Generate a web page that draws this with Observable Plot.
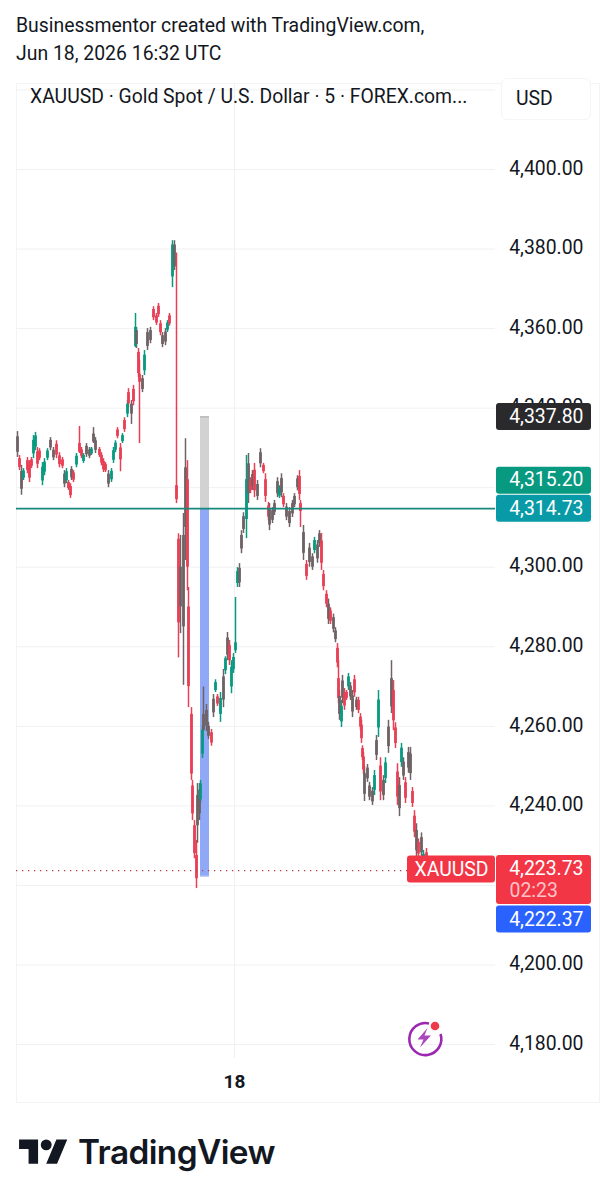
<!DOCTYPE html>
<html>
<head>
<meta charset="utf-8">
<script src="https://cdn.jsdelivr.net/npm/d3@7"></script>
<script src="https://cdn.jsdelivr.net/npm/@observablehq/plot@0.6"></script>
<style>
  html,body{margin:0;padding:0;background:#fff;}
  body{position:relative;width:614px;height:1200px;overflow:hidden;font-family:Roboto,sans-serif;color:#131722;}
  .abs{position:absolute;white-space:nowrap;}
  #chart{position:absolute;left:0;top:83px;}
  #frame{position:absolute;left:16px;top:83px;width:584px;height:1020px;border:1px solid #f3f4f6;box-sizing:border-box;}
  .candle{filter:blur(.35px);}
</style>
</head>
<body>
<div class="abs" style="left:16px;top:13px;font-size:19.4px;line-height:26px;">Businessmentor created with TradingView.com,</div>
<div class="abs" style="left:16px;top:40.5px;font-size:19.4px;line-height:26px;">Jun 18, 2026 16:32 UTC</div>
<div id="frame"></div>
<div id="chart"></div>
<div class="abs" style="left:30px;top:84px;font-size:19.35px;line-height:26px;">XAUUSD · Gold Spot / U.S. Dollar · 5 · FOREX.com...</div>
<div class="abs" style="left:501px;top:78px;width:90px;height:42px;background:#fff;border:1px solid #f5f5f6;border-radius:6px;box-sizing:border-box;font-size:19.4px;line-height:40px;padding-left:14px;">USD</div>
<svg class="abs" style="left:403px;top:1014px;" width="44" height="48" viewBox="0 0 44 48">
  <path d="M26 9.5 A16 16 0 1 0 37.5 20" fill="none" stroke="#9c27b0" stroke-width="2.6"/>
  <path d="M24.5 14 L14.5 25.5 H20.5 L17 33.5 L28 21.5 H21.5 Z" fill="#9c27b0" opacity=".85"/>
  <circle cx="32" cy="12" r="4.3" fill="#ee3b4a"/>
</svg>
<svg class="abs" style="left:19px;top:1133.5px;" width="49" height="38" viewBox="0 0 36 28">
  <path fill="#131722" d="M14 22H7V11H0V4h14v18zM28 22h-8l7.5-18h8L28 22z"/><circle cx="20" cy="8" r="4" fill="#131722"/>
</svg>
<div class="abs" style="left:78px;top:1131px;font-family:Inter,sans-serif;font-weight:600;font-size:33.4px;line-height:42px;letter-spacing:-.6px;color:#131722;">TradingView</div>
<script>
const bars = [
0,2,4,6,10,12,14,16,18,20,
22,25,27,30,33,36,39,42,45,47,
49,51,53,54,56,59,62,64,66,69,
72,74,76,78,82,84,86,88,91,94,
96,98,100,103,105,107,110,111,114,116,
118,119,121,122,125,127,130,133,136,139,
141,143,145,148,150,152,155,157,159,161,
163,166,168,170,171,174,175,177,179,180,
182,183,185,186,189,191,194,196,198,200,
203,206,208,210,212,214,216,218,220,222,
224,226,229,231,233,235,237,240,243,246,
248,251,252,255,257,260,262,264,266,269,
272,275,277,280,282,283,286,289,292,295,
297,300,302,304,306,309,311,313,316,318,
320,321,322,324,325,327,329,331,333,335,
337,339,341,343,344,345,346,347,350,352,
355,357,359,361,363,366,368,371,374,376,
378,380,382,384,386,388,391,393,395,397,
399,401,404,406,409];
const highs = [
4334.1,4328.1,4325.6,4324.8,4327.6,4326.8,4327.6,4333.1,4333.9,4330.1,
4329.8,4326.3,4327.3,4329.8,4332.6,4330.1,4331.8,4328.8,4327.6,4324.3,
4324.8,4321.8,4321.0,4325.3,4324.3,4328.6,4335.4,4330.1,4328.6,4331.1,
4330.1,4330.1,4335.1,4332.6,4330.1,4328.8,4327.3,4326.3,4324.3,4324.8,
4330.1,4331.8,4335.1,4331.1,4333.6,4337.6,4341.9,4344.9,4341.9,4345.7,
4363.8,4360.3,4355.0,4352.0,4348.2,4354.5,4360.0,4360.3,4365.5,4363.8,
4366.3,4362.0,4359.0,4360.0,4362.0,4363.8,4382.1,4382.1,4379.0,4308.4,
4308.0,4313.5,4332.3,4326.8,4294.9,4264.7,4246.4,4236.3,4231.3,4245.6,
4245.6,4246.4,4260.2,4269.9,4265.5,4261.0,4259.2,4268.0,4271.7,4268.0,
4268.5,4274.3,4277.5,4283.6,4281.6,4276.5,4278.3,4292.4,4299.9,4300.9,
4309.2,4313.7,4328.1,4328.6,4322.5,4324.3,4326.1,4321.8,4329.8,4326.1,
4323.5,4316.3,4316.0,4315.0,4316.8,4322.5,4320.5,4323.5,4318.5,4316.0,
4315.0,4316.8,4318.5,4323.0,4324.3,4316.8,4310.5,4301.7,4306.0,4303.4,
4307.5,4306.7,4309.2,4308.5,4299.2,4294.1,4292.0,4289.8,4288.2,4284.8,
4280.8,4276.5,4269.0,4266.5,4272.8,4269.5,4269.0,4273.3,4271.0,4269.0,
4272.8,4267.3,4267.3,4263.2,4261.5,4255.1,4253.4,4249.9,4250.4,4245.9,
4244.6,4248.9,4257.7,4269.0,4252.1,4247.6,4252.1,4261.5,4276.5,4271.5,
4260.9,4250.6,4247.1,4255.7,4252.1,4247.1,4254.7,4254.7,4244.6,4238.8,
4235.5,4231.7,4233.2,4228.8,4229.3];
const lows = [
4327.6,4324.3,4318.1,4321.8,4323.5,4321.3,4324.8,4327.3,4329.3,4324.8,
4326.8,4320.5,4323.0,4326.8,4329.3,4326.8,4327.3,4325.0,4324.8,4320.0,
4321.0,4319.3,4317.3,4321.8,4321.3,4325.0,4328.6,4327.3,4326.1,4327.6,
4327.3,4328.1,4331.1,4328.6,4327.6,4325.5,4323.8,4323.8,4320.0,4321.3,
4326.1,4328.8,4332.3,4324.0,4331.1,4333.9,4337.6,4340.1,4335.9,4340.6,
4355.2,4355.0,4347.7,4331.1,4343.9,4348.2,4354.5,4356.2,4362.0,4360.8,
4362.8,4358.2,4355.2,4355.7,4359.0,4360.6,4370.3,4374.6,4316.0,4277.2,
4283.3,4270.3,4301.7,4294.1,4264.7,4246.4,4236.3,4226.7,4219.2,4230.6,
4236.3,4240.6,4251.9,4258.7,4258.7,4256.7,4255.0,4262.2,4268.5,4265.0,
4261.0,4264.7,4273.0,4276.5,4275.3,4268.2,4273.3,4278.3,4294.9,4294.9,
4303.4,4308.5,4307.2,4316.0,4318.5,4319.3,4317.5,4316.8,4325.0,4323.5,
4316.3,4311.7,4309.2,4311.0,4313.0,4317.5,4317.3,4317.5,4315.0,4311.7,
4310.0,4312.5,4315.0,4319.2,4316.8,4310.0,4301.7,4296.7,4300.0,4299.2,
4303.4,4301.0,4305.0,4299.2,4294.1,4289.8,4285.6,4285.6,4283.5,4281.0,
4274.7,4265.7,4261.5,4259.7,4265.7,4264.0,4266.5,4269.0,4266.5,4262.2,
4267.3,4264.0,4263.2,4258.9,4255.7,4251.4,4247.9,4241.1,4245.9,4241.3,
4240.1,4242.6,4251.4,4257.2,4241.3,4241.3,4245.6,4253.2,4263.2,4258.9,
4254.4,4240.1,4237.3,4249.7,4246.4,4240.6,4248.2,4246.4,4239.6,4232.0,
4227.0,4227.0,4227.0,4223.7,4223.7];
const bodyHighs = [
4332.8,4327.3,4324.1,4324.2,4326.8,4325.7,4327.0,4331.9,4333.0,4329.0,
4329.2,4325.1,4326.4,4329.2,4331.9,4329.4,4330.9,4328.0,4327.0,4323.4,
4324.0,4321.3,4320.3,4324.6,4323.7,4327.9,4331.1,4329.5,4328.1,4330.4,
4329.5,4329.7,4333.5,4331.8,4329.6,4328.1,4326.6,4325.8,4323.4,4324.1,
4329.3,4331.2,4334.5,4330.0,4333.1,4336.9,4341.0,4343.9,4341.0,4344.7,
4360.3,4359.5,4354.0,4348.5,4347.4,4353.3,4359.0,4359.5,4364.8,4363.2,
4365.6,4361.2,4358.2,4359.1,4361.4,4363.2,4381.0,4381.0,4320.5,4307.0,
4300.0,4308.0,4325.0,4322.0,4290.0,4263.0,4245.0,4235.0,4227.5,4242.6,
4244.0,4245.5,4259.0,4263.0,4264.0,4260.0,4258.4,4266.8,4271.0,4267.4,
4267.0,4272.4,4277.0,4282.2,4280.3,4274.8,4277.3,4281.0,4298.9,4299.7,
4308.0,4312.7,4322.0,4326.0,4321.7,4323.3,4324.4,4320.8,4328.8,4325.6,
4322.0,4315.4,4314.6,4314.2,4316.0,4321.5,4319.9,4322.3,4317.8,4315.1,
4314.0,4316.0,4317.8,4322.2,4322.8,4316.0,4308.7,4300.7,4304.8,4302.6,
4306.7,4305.6,4308.4,4306.6,4298.2,4293.2,4290.7,4289.0,4287.3,4284.0,
4279.6,4272.0,4267.5,4265.0,4271.4,4268.4,4268.5,4272.4,4270.1,4267.6,
4271.7,4266.6,4266.5,4262.3,4260.3,4254.4,4252.3,4248.1,4249.5,4245.0,
4243.7,4247.6,4256.4,4266.6,4250.0,4246.4,4250.8,4259.8,4272.0,4269.0,
4259.6,4248.5,4245.1,4254.5,4251.0,4245.8,4253.4,4253.0,4243.6,4237.4,
4233.8,4230.8,4232.0,4227.8,4228.2];
const bodyLows = [
4328.9,4325.1,4319.6,4322.4,4324.3,4322.4,4325.4,4328.5,4330.2,4325.9,
4327.4,4321.7,4323.9,4327.4,4330.0,4327.5,4328.2,4325.8,4325.4,4320.9,
4321.8,4319.8,4318.0,4322.5,4321.9,4325.7,4328.9,4327.9,4326.6,4328.3,
4327.9,4328.5,4331.5,4329.4,4328.1,4326.2,4324.5,4324.3,4320.9,4322.0,
4326.9,4329.4,4332.9,4327.0,4331.6,4334.6,4338.5,4341.1,4338.5,4341.6,
4355.5,4356.0,4348.7,4346.5,4344.7,4349.4,4355.5,4357.0,4362.7,4361.4,
4363.5,4359.0,4356.0,4356.6,4359.6,4361.2,4373.0,4375.5,4317.0,4286.0,
4290.0,4285.0,4310.0,4300.0,4270.0,4248.0,4238.0,4228.0,4221.7,4235.0,
4238.0,4241.5,4253.0,4259.0,4260.0,4257.5,4255.8,4263.4,4269.0,4265.6,
4263.0,4266.6,4274.0,4277.9,4276.5,4269.9,4274.3,4279.0,4295.9,4296.1,
4304.6,4309.5,4312.0,4318.5,4319.3,4320.3,4319.2,4317.8,4326.0,4324.0,
4317.8,4312.6,4310.6,4311.8,4313.8,4318.5,4317.9,4318.7,4315.7,4312.6,
4311.0,4313.4,4315.7,4320.0,4318.3,4314.0,4303.5,4297.7,4301.2,4300.0,
4304.2,4302.1,4305.8,4301.0,4295.1,4290.7,4286.9,4286.4,4284.4,4281.8,
4275.9,4267.0,4263.0,4261.1,4267.1,4265.1,4267.0,4269.9,4267.4,4263.6,
4268.4,4264.7,4264.0,4259.8,4256.9,4252.1,4249.0,4242.9,4246.8,4242.2,
4241.0,4243.9,4252.7,4259.6,4243.5,4242.6,4246.9,4254.9,4264.9,4261.4,
4255.7,4242.2,4239.3,4250.9,4247.5,4241.9,4249.5,4248.1,4240.6,4233.4,
4228.7,4227.9,4228.2,4224.7,4224.8];
const tones = (
"mdmuddduud"+"duuummdddm"+
"uddmduddum"+"mummddddmu"+
"uuddududmd"+"umddmummdd"+
"ddmmudumdd"+"mmmddddddm"+
"muummmdmud"+"umumduuuum"+
"mmumdmdmmd"+"ddmmmmumdm"+
"mmmmddmdmm"+"ummdddmdmm"+
"ddmumddumm"+"dmdddddmmm"+
"mumudmummd"+"ddmumdmmdd"+
"mdmud").split("");

const gridPrices = [4420,4400,4380,4360,4340,4320,4300,4280,4260,4240,4220,4200,4180];
const axisPrices = [4400,4380,4360,4340,4300,4280,4260,4240,4200,4180];
const midnightBar = 217;
const dayLabel = "18";
const entryPrice = 4314.73, stopPrice = 4337.80, targetPrice = 4222.37, lastPrice = 4223.73;
const midPrice = 4315.20;
const positionBars = [183, 192];

const UP = "#089981", DOWN = "#e83f55", MIXED = "#6f6265";
const toneColor = {u: UP, d: DOWN, m: MIXED};
const rows = bars.map((b, i) => ({b, h: highs[i], l: lows[i], top: bodyHighs[i], bot: bodyLows[i], c: toneColor[tones[i]]}));

const pxPerUsd = 875 / 220;
const axisBars = [479, 574], tagBars = [390, 478];
const box = (price, dy, fill, hPx, xs = axisBars) =>
  Plot.rect([0], {x1: () => xs[0], x2: () => xs[1], y1: () => price + hPx / 2 / pxPerUsd, y2: () => price - hPx / 2 / pxPerUsd, fill, dy, rx: 3});
const tag = (text, price, dy, fill = "#fff", x = 566, anchor = "end") =>
  Plot.text([text], {x: () => x, y: () => price, text: d => d, fill, dy, fontSize: 19.4, textAnchor: anchor, fontFamily: "Roboto,sans-serif"});

const chart = Plot.plot({
  width: 614, height: 1020,
  marginLeft: 16, marginRight: 119, marginTop: 0, marginBottom: 45,
  style: {background: "transparent", fontFamily: "Roboto,sans-serif", overflow: "visible"},
  x: {type: "linear", domain: [0, 409], range: [17, 426]},
  y: {type: "linear", domain: [4400, 4180], range: [86, 961]},
  marks: [
    Plot.ruleY(gridPrices, {stroke: "#f0f1f3", strokeWidth: 1}),
    Plot.ruleX([midnightBar], {stroke: "#f0f1f3", strokeWidth: 1}),
    Plot.axisY(axisPrices, {anchor: "right", tickSize: 0, tickPadding: 0, dx: 88, dy: -1, textAnchor: "end", fontSize: 19.4, color: "#131722", tickFormat: d3.format(",.2f"), label: null}),
    Plot.axisX([midnightBar], {anchor: "bottom", tickSize: 0, tickPadding: 15.5, fontSize: 19, fontWeight: 700, color: "#131722", tickFormat: () => dayLabel, label: null}),
    Plot.rect([0], {x1: () => positionBars[0], x2: () => positionBars[1], y1: () => stopPrice, y2: () => entryPrice, fill: "#d2d2d2"}),
    Plot.rect([0], {x1: () => positionBars[0], x2: () => positionBars[1], y1: () => entryPrice, y2: () => targetPrice, fill: "#8fa9f7"}),
    Plot.ruleY([stopPrice], {x1: positionBars[0], x2: positionBars[1], stroke: "#a9a9a9", strokeWidth: 1}),
    Plot.ruleY([targetPrice], {x1: positionBars[0], x2: positionBars[1], stroke: "#7f99ea", strokeWidth: 1}),
    Plot.ruleX(rows, {x: "b", y1: "l", y2: "h", stroke: "c", strokeWidth: 1.5, className: "candle"}),
    Plot.ruleX(rows, {x: "b", y1: "bot", y2: "top", stroke: "c", strokeWidth: 2.8, className: "candle"}),
    Plot.ruleY([entryPrice], {stroke: "#17897c", strokeWidth: 1.6}),
    Plot.ruleY([lastPrice], {x1: -1, x2: 390, stroke: "#b5404f", strokeWidth: 1.3, strokeDasharray: "1.3 4.7"}),
    box(stopPrice, 0, "#2a2a2c", 27),
    tag("4,337.80", stopPrice, 0),
    box(midPrice, -26, UP, 27),
    tag("4,315.20", midPrice, -26.5),
    box(entryPrice, 0, "#089aa6", 27),
    tag("4,314.73", entryPrice, 0),
    box(lastPrice, -1, "#f23645", 27, tagBars),
    tag("XAUUSD", lastPrice, -1, "#fff", 434, "middle"),
    box(lastPrice, 9.5, "#f23645", 49),
    tag("4,223.73", lastPrice, -1.5),
    tag("02:23", lastPrice, 20.5, "#ffc2c8", 492, "start"),
    box(targetPrice, 43.5, "#2962ff", 27),
    tag("4,222.37", targetPrice, 43.5)
  ]
});
document.getElementById("chart").append(chart);
</script>
</body>
</html>
